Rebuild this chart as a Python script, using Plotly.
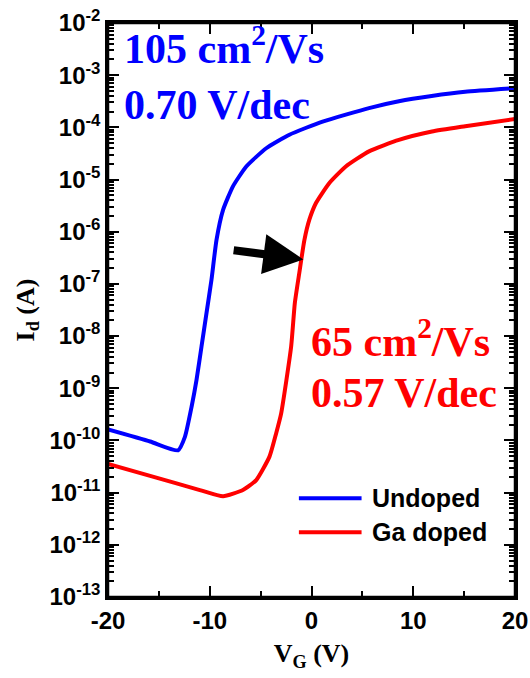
import plotly.graph_objects as go

# Undoped (blue) transfer curve: gate voltage (V) and drain current (A)
undoped_vg = [-20, -15.86, -13.12, -12.44, -11.78, -11.30, -10.81, -10.32, -9.83, -9.34,
              -8.69, -7.72, -6.41, -4.45, -2.17, 1.09, 5.65, 8.59, 11.81, 15.11, 20]
undoped_id = [1.62e-10, 9.55e-11, 6.46e-11, 1.17e-10, 4.47e-10, 1.45e-9, 6.31e-9, 2.75e-8,
              1.20e-7, 6.92e-7, 2.63e-6, 7.41e-6, 1.78e-5, 3.98e-5, 7.24e-5, 1.29e-4,
              2.34e-4, 3.16e-4, 3.98e-4, 4.79e-4, 5.62e-4]

# Ga doped (red) transfer curve
ga_vg = [-20, -15.86, -10.97, -8.69, -6.74, -5.43, -4.13, -3.47, -2.98, -2.00,
         -1.64, -1.20, -0.70, -0.21, 0.44, 1.74, 3.37, 5.65, 8.59, 11.84, 15.11, 20]
ga_id = [3.55e-11, 2.09e-11, 1.12e-11, 8.51e-12, 1.12e-11, 1.74e-11, 4.90e-11, 1.38e-10,
         3.31e-10, 6.31e-9, 4.27e-8, 1.62e-7, 6.92e-7, 1.70e-6, 3.55e-6, 8.51e-6,
         1.78e-5, 3.47e-5, 5.75e-5, 8.32e-5, 1.05e-4, 1.45e-4]

y_tickvals = [1e-13, 1e-12, 1e-11, 1e-10, 1e-9, 1e-8, 1e-7, 1e-6, 1e-5, 1e-4, 1e-3, 1e-2]
y_ticktext = ["10<sup>-%d</sup>" % e for e in range(13, 1, -1)]
y_minor_vals = [d * m for d in y_tickvals[:-1] for m in range(2, 10)]
x_tickvals = [-20, -10, 0, 10, 20]
x_ticktext = ["-20", "-10", "0", "10", "20"]
x_minor_vals = [-15, -5, 5, 15]
x_range = [-20, 20]
y_range_log = [-13, -2]

series_names = ["Undoped", "Ga doped"]
series_colors = ["#0000ff", "#ff0000"]

SANS = "Liberation Sans, Arial, sans-serif"
SERIF = "Liberation Serif, Times New Roman, serif"

fig = go.Figure()
fig.add_trace(go.Scatter(x=undoped_vg, y=undoped_id, mode="lines", name=series_names[0],
                         line=dict(color=series_colors[0], width=4, shape="spline", smoothing=0.5)))
fig.add_trace(go.Scatter(x=ga_vg, y=ga_id, mode="lines", name=series_names[1],
                         line=dict(color=series_colors[1], width=4, shape="spline", smoothing=0.5)))

axis_common = dict(showline=True, linecolor="black", linewidth=2.5, mirror="allticks",
                   ticks="inside", ticklen=11, tickwidth=2, tickcolor="black",
                   showgrid=False, zeroline=False)

fig.update_layout(
    xaxis=dict(range=x_range, tickmode="array", tickvals=x_tickvals, ticktext=x_ticktext,
               tickfont=dict(family=SANS, size=24, color="black"),
               ticklabeloverflow="allow", automargin="height",
               minor=dict(ticks="inside", ticklen=6, tickwidth=2, tickcolor="black",
                          tickmode="array", tickvals=x_minor_vals, showgrid=False),
               title=dict(text="<b>V<sub>G</sub> (V)</b>",
                          font=dict(family=SERIF, size=26, color="black"),
                          standoff=12),
               **axis_common),
    yaxis=dict(type="log", range=y_range_log, tickmode="array", tickvals=y_tickvals,
               ticktext=y_ticktext, ticklabeloverflow="allow", automargin="width",
               tickfont=dict(family=SANS, size=24, color="black"),
               minor=dict(ticks="inside", ticklen=6, tickwidth=1.5, tickcolor="black",
                          tickmode="array", tickvals=y_minor_vals, showgrid=False),
               title=dict(text="<b>I<sub>d</sub> (A)</b>",
                          font=dict(family=SERIF, size=26, color="black"),
                          standoff=8),
               **axis_common),
)
fig.update_xaxes(ticktext=["<b>%s</b>" % t for t in x_ticktext])
fig.update_yaxes(ticktext=["<b>%s</b>" % t for t in y_ticktext])

# plot frame
fig.add_shape(type="rect", xref="paper", yref="paper", x0=0, x1=1, y0=0, y1=1,
              line=dict(color="black", width=2.5), layer="above")

ann_font_b = dict(family=SERIF, size=42, color="#0000ff")
ann_font_r = dict(family=SERIF, size=42, color="#ff0000")
annotations = [
    dict(text="<b>105 cm<sup>2</sup>/Vs</b>", x=0.035, y=0.960, font=ann_font_b),
    dict(text="<b>0.70 V/dec</b>", x=0.035, y=0.858, font=ann_font_b),
    dict(text="<b>65 cm<sup>2</sup>/Vs</b>", x=0.495, y=0.451, font=ann_font_r),
    dict(text="<b>0.57 V/dec</b>", x=0.495, y=0.356, font=ann_font_r),
]
for a in annotations:
    fig.add_annotation(xref="paper", yref="paper", xanchor="left", yanchor="middle",
                       showarrow=False, **a)

# arrow pointing from undoped to Ga doped curve
fig.add_annotation(x=-0.8, y=-6.53, ax=-7.8, ay=-6.35, xref="x", yref="y", axref="x", ayref="y",
                   text="", showarrow=True, arrowhead=2, arrowsize=1.0, arrowwidth=8,
                   arrowcolor="black")

# manual legend
legend_y = [0.172, 0.113]
for name, color, ly in zip(series_names, series_colors, legend_y):
    fig.add_shape(type="line", xref="paper", yref="paper", x0=0.469, x1=0.623, y0=ly, y1=ly,
                  line=dict(color=color, width=4))
    fig.add_annotation(xref="paper", yref="paper", x=0.643, y=ly, xanchor="left", yanchor="middle",
                       text="<b>%s</b>" % name, showarrow=False,
                       font=dict(family=SANS, size=25, color="black"))

fig.update_layout(width=530, height=678, margin=dict(l=108, r=13, t=23, b=81),
                  paper_bgcolor="white", plot_bgcolor="white", showlegend=False)

fig.write_html("out.html")
